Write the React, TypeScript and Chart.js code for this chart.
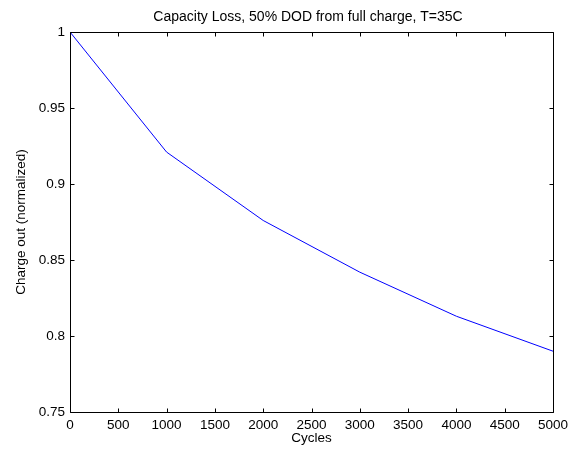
import React, { useEffect, useRef } from "react";
import { Chart, registerables } from "chart.js";

Chart.register(...registerables);

const cycles = [0, 1000, 2000, 3000, 4000, 5000];
const chargeOut = [1, 0.921, 0.876, 0.842, 0.813, 0.79];
const titleText = "Capacity Loss, 50% DOD from full charge, T=35C";
const xTitle = "Cycles";
const yTitle = "Charge out (normalized)";

const FONT = "'Liberation Sans', Arial, Helvetica, sans-serif";
const FS = 13.5;

const boxPlugin = {
  id: "matlabBox",
  afterDraw(chart: any) {
    const { ctx, chartArea } = chart;
    const { left, right, top, bottom } = chartArea;
    const xs = chart.scales.x;
    const ys = chart.scales.y;
    ctx.save();
    ctx.strokeStyle = "#000";
    ctx.lineWidth = 1;
    const L = Math.round(left) + 0.5;
    const R = Math.round(right) + 0.5;
    const T = Math.round(top) + 0.5;
    const B = Math.round(bottom) + 0.5;
    ctx.beginPath();
    ctx.rect(L, T, R - L, B - T);
    ctx.stroke();
    const tl = 4;
    ctx.beginPath();
    xs.ticks.forEach((t: any) => {
      const px = Math.round(xs.getPixelForValue(t.value)) + 0.5;
      ctx.moveTo(px, B);
      ctx.lineTo(px, B - tl);
      ctx.moveTo(px, T);
      ctx.lineTo(px, T + tl);
    });
    ys.ticks.forEach((t: any) => {
      const py = Math.round(ys.getPixelForValue(t.value)) + 0.5;
      ctx.moveTo(L, py);
      ctx.lineTo(L + tl, py);
      ctx.moveTo(R, py);
      ctx.lineTo(R - tl, py);
    });
    ctx.stroke();
    ctx.fillStyle = "#000";
    ctx.textAlign = "center";
    ctx.textBaseline = "middle";
    ctx.font = `14px ${FONT}`;
    ctx.fillText(titleText, 308, 17);
    ctx.font = `${FS}px ${FONT}`;
    ctx.fillText(xTitle, (left + right) / 2, 438);
    ctx.translate(21, (top + bottom) / 2);
    ctx.rotate(-Math.PI / 2);
    ctx.fillText(yTitle, 0, 0);
    ctx.restore();
  },
};

export default function App() {
  const ref = useRef<HTMLCanvasElement>(null);
  useEffect(() => {
    if (!ref.current) return;
    const chart = new Chart(ref.current, {
      type: "line",
      data: {
        datasets: [
          {
            data: cycles.map((c, i) => ({ x: c, y: chargeOut[i] })),
            borderColor: "#0000ff",
            borderWidth: 1,
            pointRadius: 0,
            fill: false,
            tension: 0,
          },
        ],
      },
      options: {
        responsive: false,
        animation: false,
        layout: { padding: { top: 32, right: 25, left: 0, bottom: 0 } },
        plugins: { legend: { display: false }, tooltip: { enabled: false }, title: { display: false } },
        scales: {
          x: {
            type: "linear",
            min: 0,
            max: 5000,
            grid: { display: false, drawTicks: false, tickLength: 0 },
            border: { display: false },
            ticks: {
              stepSize: 500,
              color: "#000",
              padding: 5,
              maxRotation: 0,
              autoSkip: false,
              font: { family: FONT, size: FS },
              callback: (v: any) => String(v),
            },
            afterFit(scale: any) {
              scale.height = 39;
            },
          },
          y: {
            type: "linear",
            min: 0.75,
            max: 1,
            grid: { display: false, drawTicks: false, tickLength: 0 },
            border: { display: false },
            ticks: {
              stepSize: 0.05,
              color: "#000",
              padding: 5,
              autoSkip: false,
              font: { family: FONT, size: FS },
              callback: (v: any) => String(parseFloat(Number(v).toFixed(2))),
            },
            afterFit(scale: any) {
              scale.width = 70;
            },
          },
        },
      },
      plugins: [boxPlugin],
    });
    return () => chart.destroy();
  }, []);
  return (
    <div style={{ position: "fixed", left: 0, top: 0, width: 578, height: 451, background: "#fff" }}>
      <canvas ref={ref} width={578} height={451} style={{ display: "block" }} />
    </div>
  );
}
